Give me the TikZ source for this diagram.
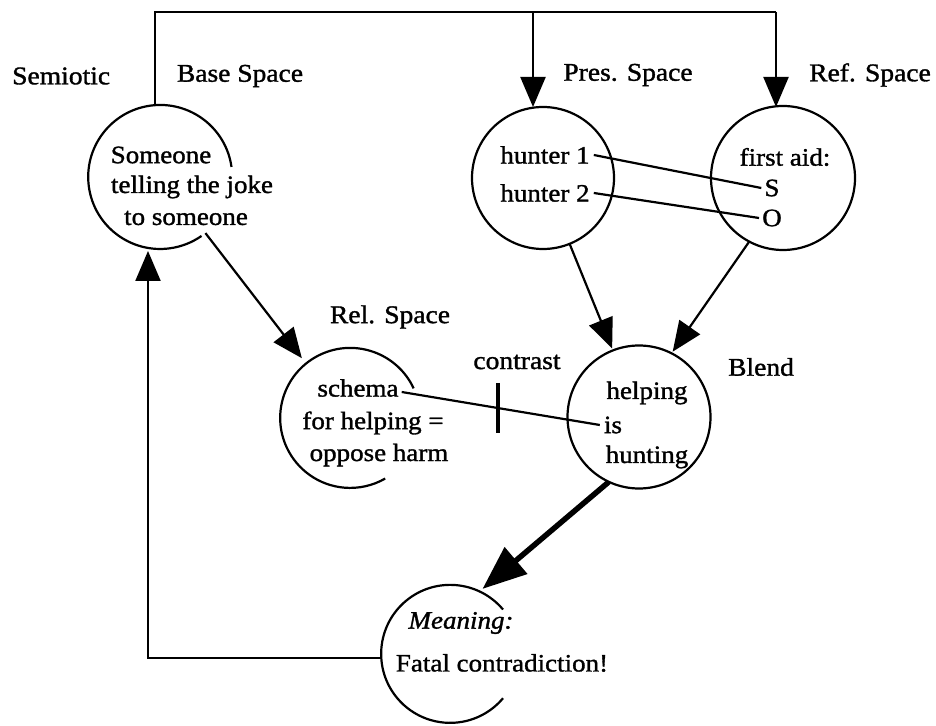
\documentclass[tikz,border=0pt]{standalone}
\usepackage{fontspec}
\setmainfont{Liberation Serif}[UprightFeatures={FakeBold=1.3, FakeStretch=1.08}, ItalicFeatures={FakeBold=1.3, FakeStretch=1.08}]
\usetikzlibrary{arrows.meta}
\tikzset{
  spc/.style={circle, minimum size=#1, inner sep=0pt, draw=none},
  outl/.style={line width=2.2pt},
  lbl/.style={inner sep=0pt, font=\fontsize{25.5}{28}\selectfont},
  txt/.style={inner sep=0pt, font=\fontsize{25}{28}\selectfont},
  conn/.style={line width=2.2pt},
  arr/.style={line width=2.2pt, -{Triangle[length=30pt, width=25pt]}},
  bigarr/.style={line width=5.5pt, -{Triangle[length=44pt, width=34pt]}},
}
\begin{document}
\begin{tikzpicture}[x=1pt, y=1pt]
\useasboundingbox (0,0) rectangle (936,725);
% circles (named, outlines drawn as arcs)
\node[spc=144pt] (base) at (160,548) {};
\node[spc=142pt] (pres) at (543,547) {};
\node[spc=144pt] (ref) at (783,547) {};
\node[spc=140pt] (rel) at (350,307) {};
\node[spc=143pt] (blend) at (639,308) {};
\node[spc=138pt] (mean) at (450,71) {};
\draw[outl] (base.8) arc[start angle=8, end angle=305, radius=72pt];
\draw[outl] (pres.center) circle[radius=71pt];
\draw[outl] (ref.center) circle[radius=72pt];
\draw[outl] (rel.25) arc[start angle=25, end angle=300, radius=70pt];
\draw[outl] (blend.center) circle[radius=71.5pt];
\draw[outl] (mean.40) arc[start angle=40, end angle=320, radius=69pt];
% labels
\node[lbl, anchor=west] (semiotic) at (12,649) {Semiotic};
\node[lbl] (baselbl) at (240,649) {Base Space};
\node[lbl] (preslbl) at (628,650) {Pres. Space};
\node[lbl] (reflbl) at (870,650) {Ref. Space};
\node[lbl] (rellbl) at (390,408) {Rel. Space};
\node[lbl] (contrast) at (517,363) {contrast};
\node[lbl] (blendlbl) at (761,358) {Blend};
% inner texts
\node[txt] (t1) at (161,570) {Someone};
\node[txt] (t2) at (192,538) {telling the joke};
\node[txt] (t3) at (186,507) {to someone};
\node[txt] (h1) at (545,570) {hunter 1};
\node[txt] (h2) at (545,532) {hunter 2};
\node[txt] (fa) at (785,568) {first aid:};
\node[txt] (S) at (772,537) {S};
\node[txt] (O) at (772,507) {O};
\node[txt] (sc) at (358,337) {schema};
\node[txt] (fh) at (373,302) {for helping =};
\node[txt] (oh) at (379,270) {oppose harm};
\node[txt] (hp) at (647,332) {helping};
\node[txt] (is) at (613,300) {is};
\node[txt] (hu) at (647,268) {hunting};
\node[txt] (mn) at (461,102) {\itshape Meaning:};
\node[txt] (fc) at (502,62) {Fatal contradiction!};
% mapping lines
\draw[conn] (h1.east) ++(4,0) coordinate (h1e) -- ([xshift=-3pt]S.west);
\draw[conn] (h2.east) ++(4,0) coordinate (h2e) -- ([xshift=-3pt]O.west);
\draw[conn] (sc.east) ++(3,-4) coordinate (sce) -- ([xshift=-4pt]is.west);
\coordinate (tick) at (498,317);
\draw[line width=4.5pt] ([yshift=25pt]tick) -- ([yshift=-25pt]tick);
% top bracket
\coordinate (topL) at (155,713);
\coordinate (topR) at (776,713);
\coordinate (topM) at (533,713);
\draw[conn] (base.north -| topL) -- (topL) -- (topR);
\draw[arr] (topR) -- (776,618);
\draw[arr] (topM) -- (533,618);
% flows
\draw[arr] (base.-51) -- ([shift={(-3pt,6pt)}]rel.130);
\draw[arr] (pres.-68) -- ([shift={(0pt,2pt)}]blend.112);
\draw[arr] (ref.-118) -- ([shift={(0pt,2pt)}]blend.62);
\draw[bigarr] (blend.-115) -- ([shift={(0pt,4pt)}]mean.62);
% feedback loop
\coordinate (loopB) at (148,67);
\draw[arr] (mean.west |- loopB) -- (loopB) -- (148,474);
\end{tikzpicture}
\end{document}
